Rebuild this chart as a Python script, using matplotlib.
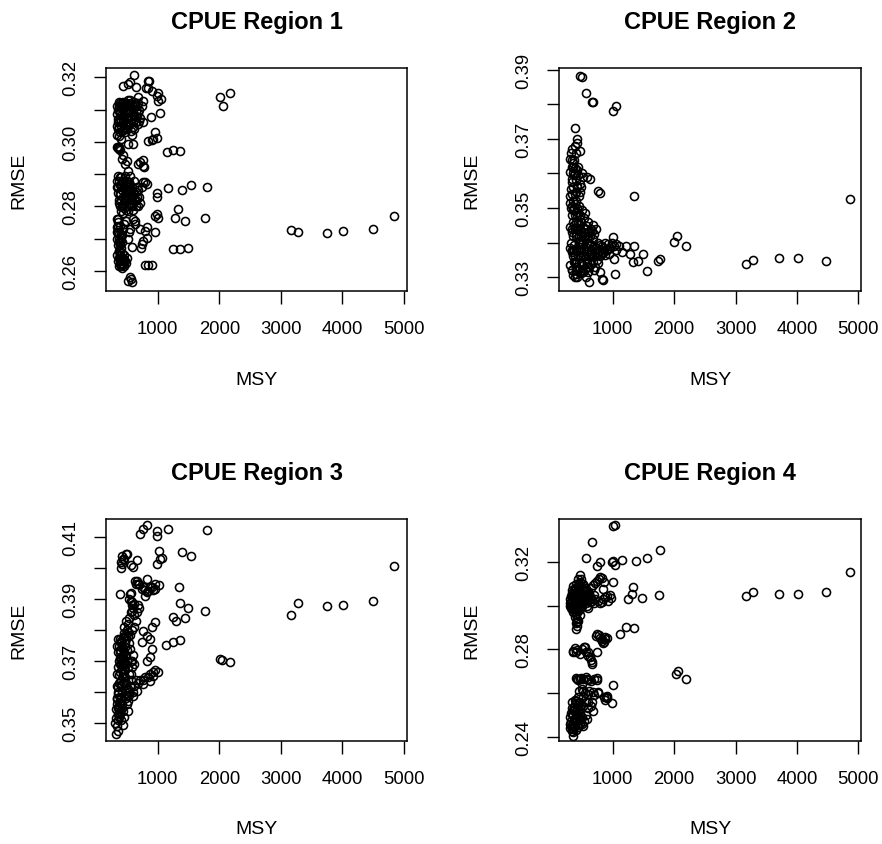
import matplotlib
matplotlib.use("Agg")
import matplotlib.pyplot as plt

plt.rcParams['font.family'] = ['Liberation Sans', 'DejaVu Sans']

titles = ['CPUE Region 1', 'CPUE Region 2', 'CPUE Region 3', 'CPUE Region 4']
x_ticks = [1000, 2000, 3000, 4000, 5000]

# (MSY, RMSE), region by region
region1 = [
    (3160, .2726), (3284, .2721), (3744, .2718), (4004, .2722), (4491, .2728), (4843, .2771),
    (2012, .3140), (2055, .3110), (2175, .3150),
    (1796, .2861), (1769, .2764), (1536, .2867), (1390, .2851), (1162, .2857), (1336, .2791),
    (1281, .2763), (1444, .2755), (1368, .2971), (1254, .2974), (1146, .2967),
    (1254, .2667), (1363, .2667), (1488, .2672),
    (984, .2840), (990, .2830), (957, .2771), (1011, .2765), (995, .2775), (957, .2719),
    (795, .2618), (848, .2618), (903, .2618),
    (957, .3029), (930, .3009), (848, .3003), (984, .3012), (900, .3005),
    (1011, .3150), (1054, .3133), (1038, .3089), (984, .3143), (1000, .3128),
    (865, .3188), (811, .3166), (903, .3159), (767, .3128), (887, .3076), (848, .3190), (838, .3167),
    (622, .3208), (513, .3179), (442, .3174), (551, .3185), (643, .3171), (686, .3138),
    (767, .2943), (767, .2926), (675, .2931), (713, .2936), (784, .2921),
    (794, .2874), (767, .2874), (821, .2869), (740, .2860),
    (713, .2729), (767, .2693), (821, .2703), (730, .2672), (794, .2724), (821, .2737), (740, .2683),
    (578, .2674), (632, .2755), (632, .2745), (551, .2729), (605, .2760),
    (551, .2579), (524, .2569), (578, .2564), (560, .2575),
    (340, .3050), (360, .3070), (380, .3090), (400, .3110), (420, .3120), (440, .3100), (460, .3080),
    (480, .3060), (500, .3040), (520, .3110), (540, .3090), (560, .3070), (580, .3115), (600, .3100),
    (620, .3080), (640, .3060), (660, .3110), (680, .3090), (700, .3100), (720, .3075),
    (360, .3040), (380, .3030), (400, .3065), (420, .3085), (440, .3125), (460, .3105), (480, .3115),
    (500, .3095), (520, .3075), (540, .3055), (350, .3100), (370, .3110), (390, .3120), (410, .3050),
    (430, .3070), (450, .3045), (470, .3030), (490, .3120), (510, .3130), (530, .3115),
    (560, .3035), (600, .3045), (640, .3095), (680, .3055), (740, .3110), (760, .3060), (620, .3125),
    (580, .3020), (345, .3020), (400, .3010),
    (335, .3085), (355, .3060), (375, .3045), (395, .3095), (415, .3035), (435, .3060), (455, .3120),
    (475, .3095), (495, .3070), (515, .3050), (535, .3100), (555, .3120), (575, .3085), (595, .3060),
    (615, .3040), (635, .3110), (655, .3080), (675, .3120), (695, .3065), (545, .3130), (465, .3040),
    (425, .3105), (385, .3070), (365, .3125), (345, .3110),
    (345, .2983), (352, .2980), (360, .2985), (368, .2978), (376, .2983), (384, .2975),
    (372, .3019), (524, .2993), (605, .2993), (415, .2947), (470, .2931), (524, .2910), (440, .2960),
    (500, .2940),
    (345, .2880), (360, .2860), (380, .2840), (400, .2820), (420, .2800), (440, .2880), (460, .2860),
    (480, .2840), (500, .2820), (520, .2800), (540, .2870), (560, .2850), (580, .2830), (600, .2810),
    (620, .2840), (640, .2820), (660, .2860), (680, .2800), (700, .2830), (360, .2895),
    (380, .2890), (400, .2870), (420, .2850), (440, .2830), (460, .2810), (480, .2790), (500, .2880),
    (520, .2860), (540, .2840), (560, .2820), (580, .2800), (600, .2790), (350, .2840), (370, .2820),
    (390, .2800), (410, .2785), (430, .2780), (450, .2795), (470, .2815), (490, .2835),
    (510, .2855), (530, .2875), (550, .2895), (620, .2880), (650, .2845),
    (345, .2860), (365, .2880), (385, .2865), (405, .2890), (425, .2875), (445, .2860), (465, .2895),
    (485, .2870), (505, .2850), (525, .2830), (545, .2810), (565, .2800), (585, .2860), (605, .2845),
    (625, .2815), (645, .2800), (665, .2830), (685, .2850), (705, .2810), (395, .2835), (435, .2805),
    (475, .2825), (515, .2785), (555, .2865), (375, .2810),
    (345, .2760), (350, .2740), (360, .2720), (370, .2700), (380, .2680), (390, .2660), (400, .2640),
    (410, .2620), (420, .2610), (430, .2630), (345, .2700), (355, .2680), (365, .2660), (375, .2640),
    (385, .2620), (395, .2650), (405, .2670), (415, .2690), (425, .2710), (435, .2730),
    (450, .2650), (470, .2631), (480, .2625), (500, .2640), (520, .2700), (540, .2720), (460, .2745),
    (490, .2755), (360, .2750), (400, .2715),
    (340, .2735), (345, .2720), (355, .2760), (365, .2690), (375, .2715), (385, .2740), (395, .2690),
    (405, .2705), (345, .2650), (355, .2630), (365, .2615), (375, .2660), (385, .2645), (395, .2630),
    (405, .2615), (415, .2640), (425, .2655), (435, .2620), (445, .2635), (455, .2615),
]

region2 = [
    (468, .3883), (495, .3878), (560, .3832), (669, .3806), (675, .3808), (1000, .3782), (1049, .3796),
    (387, .3731), (1347, .3536), (4864, .3526),
    (2053, .3420), (1998, .3401), (2188, .3391),
    (3171, .3339), (3290, .3351), (3714, .3356), (4023, .3356), (4473, .3346),
    (1771, .3353), (1744, .3346), (1554, .3319), (1488, .3367), (1418, .3348),
    (1353, .3391), (1282, .3367), (1336, .3343), (1217, .3391), (1147, .3372),
    (1038, .3308), (821, .3295), (848, .3292), (615, .3286), (1000, .3416), (1022, .3353),
    (767, .3550), (794, .3544), (577, .3589), (631, .3584),
    (414, .3700), (425, .3688), (333, .3671), (468, .3666), (310, .3642),
    (320, .3660), (340, .3640), (360, .3620), (380, .3600), (400, .3580), (420, .3560), (440, .3595),
    (460, .3570), (500, .3600), (520, .3590), (330, .3620), (350, .3600), (370, .3640), (390, .3680),
    (410, .3660), (430, .3620), (360, .3560), (380, .3540), (400, .3520), (420, .3500),
    (320, .3500), (340, .3480), (360, .3460), (380, .3440), (400, .3420), (420, .3480), (440, .3460),
    (460, .3440), (480, .3420), (500, .3400), (330, .3540), (350, .3520), (370, .3500), (390, .3480),
    (410, .3460), (430, .3440), (450, .3420), (470, .3400), (490, .3380), (510, .3360),
    (320, .3400), (340, .3380), (360, .3360), (380, .3340), (400, .3320), (420, .3300), (440, .3380),
    (460, .3360), (480, .3340), (500, .3320), (520, .3400), (540, .3380), (560, .3360), (580, .3340),
    (600, .3420), (620, .3400), (640, .3380), (660, .3360), (680, .3410), (700, .3390),
    (720, .3370), (740, .3350), (760, .3400), (780, .3380), (800, .3360), (820, .3390), (850, .3370),
    (880, .3400), (900, .3380), (930, .3395), (960, .3385), (990, .3400), (1020, .3390), (1050, .3395),
    (560, .3440), (600, .3460), (640, .3440), (680, .3450), (620, .3330), (700, .3320),
    (340, .3320), (360, .3305), (380, .3300), (400, .3310), (450, .3325), (520, .3315), (560, .3300),
    (330, .3440), (350, .3420), (370, .3380), (390, .3360), (410, .3340), (430, .3360), (450, .3400),
    (470, .3480), (490, .3460), (510, .3430), (530, .3420), (550, .3410), (575, .3395),
    (300, .3515), (330, .3505), (355, .3495), (385, .3512), (415, .3490), (445, .3505), (470, .3478),
    (500, .3495), (530, .3470), (555, .3485),
    (305, .3445), (335, .3432), (365, .3450), (395, .3425), (425, .3438), (455, .3452), (485, .3430),
    (515, .3445), (545, .3420), (575, .3448), (605, .3430), (635, .3418), (665, .3435), (700, .3425),
    (735, .3440),
    (310, .3385), (340, .3372), (370, .3392), (400, .3378), (430, .3365), (460, .3388), (490, .3372),
    (520, .3362), (550, .3390), (580, .3375), (610, .3365), (640, .3392), (670, .3370), (700, .3360),
    (730, .3385), (760, .3368), (790, .3392), (820, .3372), (850, .3385), (880, .3365), (910, .3378),
    (940, .3368), (970, .3390), (1060, .3380), (1100, .3390),
    (305, .3335), (335, .3322), (365, .3345), (395, .3330), (425, .3318), (455, .3340), (485, .3312),
    (515, .3335), (545, .3325), (575, .3348), (605, .3315), (640, .3338), (680, .3345), (720, .3330),
    (760, .3340), (790, .3315),
    (305, .3535), (325, .3555), (345, .3575), (365, .3595), (385, .3615), (405, .3545), (425, .3565),
    (445, .3535), (330, .3585), (310, .3605), (350, .3630), (420, .3610), (460, .3545), (480, .3560),
]

region3 = [
    (4843, .4006), (4491, .3893), (4004, .3882), (3744, .3878), (3284, .3888), (3160, .3849),
    (2175, .3696), (2012, .3707), (2039, .3705),
    (1796, .4124), (1769, .3863), (1536, .4039), (1390, .4052), (1346, .3938), (1368, .3887),
    (1498, .3872), (1444, .3838), (1254, .3841), (1292, .3831), (1368, .3768), (1244, .3763),
    (1135, .3752), (1162, .4127), (995, .4121), (995, .4105), (1027, .4057), (1038, .4030),
    (1065, .4032), (984, .4014), (1027, .3947), (821, .4140), (767, .4127), (713, .4109),
    (497, .4046), (442, .4030), (415, .4014), (405, .4000), (659, .4025), (605, .4003),
    (388, .3917), (551, .3917), (821, .3965), (903, .3938), (821, .3922), (957, .3933),
    (632, .3960), (686, .3949), (740, .3933), (794, .3911), (560, .3895), (610, .3885), (590, .3863),
    (957, .3825), (903, .3809), (767, .3798), (821, .3782), (740, .3761), (876, .3771),
    (903, .3739), (821, .3701), (876, .3712), (1000, .3664), (930, .3653), (876, .3637),
    (767, .3626), (659, .3604), (605, .3588), (345, .3578), (350, .3551), (442, .3495),
    (330, .3464), (361, .3475),
    (340, .3750), (360, .3730), (380, .3710), (400, .3690), (420, .3670), (440, .3650), (460, .3630),
    (480, .3610), (500, .3590), (520, .3570), (350, .3770), (370, .3750), (390, .3730), (410, .3710),
    (430, .3690), (450, .3670), (470, .3650), (490, .3630), (510, .3610), (530, .3590),
    (360, .3550), (380, .3530), (400, .3510), (420, .3560), (440, .3540), (460, .3520), (480, .3580),
    (500, .3560), (520, .3540), (540, .3600), (550, .3620), (560, .3640), (570, .3660), (580, .3680),
    (590, .3700), (600, .3720), (550, .3740), (530, .3760), (510, .3780), (490, .3770),
    (470, .3760), (450, .3780), (430, .3740), (410, .3760), (390, .3770), (370, .3700), (350, .3680),
    (340, .3660), (340, .3620), (360, .3600), (380, .3580), (400, .3620), (420, .3600), (440, .3710),
    (460, .3690), (480, .3720), (500, .3700), (520, .3680), (540, .3660), (560, .3700),
    (620, .3690), (640, .3640), (600, .3600), (620, .3620), (680, .3630), (720, .3640), (760, .3640),
    (800, .3650), (840, .3650), (880, .3660), (920, .3665), (960, .3670),
    (500, .3800), (520, .3820), (540, .3840), (560, .3860), (580, .3880), (600, .3870), (620, .3850),
    (640, .3830), (660, .3860), (680, .3880), (700, .3870), (540, .3900), (560, .3920), (580, .3890),
    (640, .3950), (660, .3960), (700, .3950), (760, .3940), (800, .3930), (850, .3925), (880, .3940),
    (920, .3930), (960, .3950), (400, .4020), (420, .4040), (460, .4030), (480, .4045), (560, .4010),
    (310, .3500), (330, .3515), (350, .3530), (320, .3545), (345, .3560), (370, .3545), (390, .3565),
    (335, .3580), (360, .3595), (385, .3585), (410, .3580), (350, .3615), (375, .3630), (400, .3640),
    (425, .3625), (365, .3655), (390, .3665), (415, .3675), (440, .3660), (465, .3670),
    (380, .3690), (405, .3705), (430, .3720), (455, .3700), (480, .3690), (395, .3735), (420, .3745),
    (445, .3730), (470, .3745), (500, .3735), (410, .3765), (435, .3775), (460, .3790), (485, .3780),
    (525, .3795), (555, .3785), (590, .3800), (620, .3810), (450, .3810), (480, .3830),
    (340, .3490), (355, .3510), (375, .3520), (395, .3540), (415, .3550),
]

region4 = [
    (1000, .3363), (1038, .3369), (669, .3290), (560, .3218), (1771, .3255), (1554, .3218),
    (1374, .3203), (1147, .3211), (984, .3202), (1011, .3206), (1038, .3186), (794, .3198), (740, .3183),
    (4864, .3156), (3171, .3046), (3290, .3061), (3714, .3053), (4023, .3053), (4473, .3061),
    (1749, .3047), (1336, .3084), (1309, .3053), (1255, .3031), (1472, .3034), (1011, .3107),
    (848, .3076), (967, .3034), (902, .3046), (821, .3015),
    (1119, .2870), (1217, .2901), (1353, .2898), (723, .2863), (821, .2840), (848, .2829), (875, .2847),
    (739, .2789), (2031, .2687), (2069, .2702), (2188, .2664), (1000, .2637),
    (886, .2580), (902, .2576), (984, .2554), (767, .2606), (674, .2516), (403, .2893),
    (360, .2794), (403, .2786), (549, .2812), (604, .2786), (631, .2763), (658, .2733),
    (414, .2664), (468, .2664), (577, .2664), (739, .2667), (522, .2611), (604, .2595), (685, .2603),
    (360, .2405),
    (310, .3010), (320, .3000), (340, .3020), (360, .3005), (380, .2995), (400, .3015), (420, .3000),
    (440, .3025), (460, .3010), (480, .2995), (310, .3030), (330, .3040), (350, .3050), (370, .3060),
    (390, .3070), (410, .3080), (430, .3090), (450, .3100), (470, .3110), (490, .3120),
    (510, .3100), (530, .3090), (550, .3080), (570, .3070), (590, .3060), (610, .3050), (630, .3040),
    (650, .3030), (670, .3020), (690, .3010), (500, .3000), (520, .3020), (540, .3040), (560, .3010),
    (580, .3000), (600, .2990), (620, .3060), (650, .3080), (680, .3095), (710, .3105),
    (740, .3115), (770, .3120), (800, .3130), (830, .3125), (860, .3110), (700, .3050), (720, .3030),
    (760, .3020), (800, .3010), (840, .3030), (880, .3040), (920, .3020), (960, .3050),
    (340, .2985), (360, .2970), (380, .2950), (400, .2960), (420, .2940), (440, .2975), (460, .2955),
    (400, .2920), (420, .2905), (430, .2930), (390, .3080), (410, .3100), (440, .3120), (470, .3140),
    (500, .3060), (360, .3090), (330, .3070),
    (305, .3000), (325, .3015), (345, .3005), (365, .3025), (385, .3010), (405, .3030), (425, .3015),
    (445, .3040), (465, .3025), (485, .3045), (505, .3030), (525, .3050), (545, .3020), (565, .3045),
    (585, .3025), (605, .3040), (625, .3015), (645, .3035), (315, .3045), (335, .3060),
    (355, .3035), (375, .3050), (395, .3045), (415, .3060), (435, .3050), (455, .3070), (475, .3060),
    (495, .3080), (515, .3070), (535, .3065), (320, .2990), (350, .2995), (370, .2985), (390, .2975),
    (410, .2990), (430, .2980), (450, .2995), (470, .2985), (410, .2960), (420, .2925),
    (310, .2460), (320, .2450), (340, .2440), (360, .2455), (380, .2470), (400, .2485), (420, .2500),
    (440, .2515), (460, .2530), (480, .2545), (310, .2490), (330, .2505), (350, .2520), (370, .2535),
    (390, .2550), (410, .2565), (430, .2580), (450, .2560), (470, .2475), (500, .2460),
    (520, .2450), (540, .2470), (560, .2500), (580, .2480), (440, .2445), (400, .2430), (360, .2420),
    (520, .2540), (600, .2560), (640, .2540),
    (305, .2440), (325, .2470), (345, .2455), (365, .2480), (385, .2450), (405, .2470), (425, .2455),
    (445, .2490), (465, .2460), (485, .2480), (315, .2510), (335, .2530), (355, .2500), (375, .2520),
    (395, .2505), (415, .2530), (435, .2545), (455, .2520), (475, .2505), (500, .2490),
    (340, .2560), (380, .2570), (420, .2555), (360, .2435), (330, .2425),
    (360, .2790), (380, .2805), (420, .2795), (460, .2780), (500, .2800), (540, .2810), (560, .2790),
    (600, .2770), (640, .2750), (660, .2740), (400, .2670), (440, .2660), (480, .2670), (520, .2665),
    (560, .2675), (600, .2660), (640, .2655), (700, .2665), (740, .2660), (500, .2640),
    (450, .2610), (500, .2620), (550, .2600), (620, .2610), (700, .2590), (760, .2600), (560, .2560),
    (520, .2580), (660, .2560), (600, .2530), (860, .2580), (880, .2570), (900, .2585),
    (800, .2850), (830, .2845), (860, .2835), (880, .2855), (780, .2865), (740, .2870), (900, .2850),
]

regions = [region1, region2, region3, region4]

# y ticks: every tick drawn, only every other one labelled (like R does)
y_ticks = [
    [0.26, 0.27, 0.28, 0.29, 0.30, 0.31, 0.32],
    [0.33, 0.34, 0.35, 0.36, 0.37, 0.38, 0.39],
    [0.35, 0.36, 0.37, 0.38, 0.39, 0.40, 0.41],
    [0.24, 0.26, 0.28, 0.30, 0.32],
]
y_labels = [
    ['0.26', '', '0.28', '', '0.30', '', '0.32'],
    ['0.33', '', '0.35', '', '0.37', '', '0.39'],
    ['0.35', '', '0.37', '', '0.39', '', '0.41'],
    ['0.24', '', '0.28', '', '0.32'],
]
y_limits = [(0.2537, 0.3229), (0.3260, 0.3905), (0.3442, 0.4159), (0.2380, 0.3397)]
x_limits = [(161, 5049), (126, 5043), (161, 5049), (126, 5043)]

fig = plt.figure(figsize=(8.82, 8.45), dpi=100)
boxes = [
    [0.1202, 0.6544, 0.3413, 0.2639],
    [0.6338, 0.6544, 0.3424, 0.2639],
    [0.1202, 0.1219, 0.3413, 0.2627],
    [0.6338, 0.1219, 0.3424, 0.2627],
]

for i in range(4):
    ax = fig.add_axes(boxes[i])
    msy = [p[0] for p in regions[i]]
    rmse = [p[1] for p in regions[i]]
    ax.plot(msy, rmse, linestyle='none', marker='o', ms=5.8,
            mfc='none', mec='black', mew=1.15)
    ax.set_xlim(*x_limits[i])
    ax.set_ylim(*y_limits[i])
    ax.set_xticks(x_ticks)
    ax.set_xticklabels([str(t) for t in x_ticks])
    ax.set_yticks(y_ticks[i])
    ax.set_yticklabels(y_labels[i], rotation=90, va='center')
    ax.tick_params(length=9, width=1.0, labelsize=13.3, color='black')
    ax.tick_params(axis='x', pad=12)
    ax.tick_params(axis='y', pad=10)
    for s in ax.spines.values():
        s.set_linewidth(1.1)
    ax.set_title(titles[i], fontsize=17, fontweight='bold', pad=29)
    ax.set_xlabel('MSY', fontsize=14, va='center')
    ax.xaxis.set_label_coords(0.5, -0.395)
    ax.set_ylabel('RMSE', fontsize=14, va='center')
    ax.yaxis.set_label_coords(-0.29, 0.5)

fig.savefig('out.png', dpi=100)
